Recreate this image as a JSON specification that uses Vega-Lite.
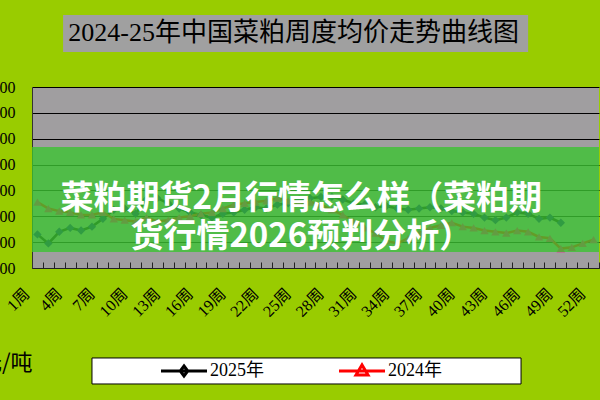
{
  "$schema": "https://vega.github.io/schema/vega-lite/v6.json",
  "autosize": "none",
  "width": 567,
  "height": 181,
  "padding": {"left": 32, "top": 87, "right": 1, "bottom": 132},
  "background": "#99CC00",
  "config": {"view": {"fill": "#A09EA0", "stroke": null}},
  "resolve": {"scale": {"shape": "independent"}},
  "data": {
    "values": [
      {"s": "2025年", "w": 1, "p": 2260}, {"s": "2025年", "w": 2, "p": 2190}, {"s": "2025年", "w": 3, "p": 2280}, {"s": "2025年", "w": 4, "p": 2310},
      {"s": "2025年", "w": 5, "p": 2290}, {"s": "2025年", "w": 6, "p": 2320}, {"s": "2025年", "w": 7, "p": 2380}, {"s": "2025年", "w": 8, "p": 2450},
      {"s": "2025年", "w": 9, "p": 2460}, {"s": "2025年", "w": 10, "p": 2420}, {"s": "2025年", "w": 11, "p": 2530}, {"s": "2025年", "w": 12, "p": 2540},
      {"s": "2025年", "w": 13, "p": 2500}, {"s": "2025年", "w": 14, "p": 2460}, {"s": "2025年", "w": 15, "p": 2430}, {"s": "2025年", "w": 16, "p": 2410},
      {"s": "2025年", "w": 17, "p": 2390}, {"s": "2025年", "w": 18, "p": 2420}, {"s": "2025年", "w": 19, "p": 2430}, {"s": "2025年", "w": 20, "p": 2450},
      {"s": "2025年", "w": 21, "p": 2470}, {"s": "2025年", "w": 22, "p": 2460}, {"s": "2025年", "w": 23, "p": 2490}, {"s": "2025年", "w": 24, "p": 2500},
      {"s": "2025年", "w": 25, "p": 2530}, {"s": "2025年", "w": 26, "p": 2540}, {"s": "2025年", "w": 27, "p": 2550}, {"s": "2025年", "w": 28, "p": 2550},
      {"s": "2025年", "w": 29, "p": 2530}, {"s": "2025年", "w": 30, "p": 2500}, {"s": "2025年", "w": 31, "p": 2490}, {"s": "2025年", "w": 32, "p": 2470},
      {"s": "2025年", "w": 33, "p": 2480}, {"s": "2025年", "w": 34, "p": 2460}, {"s": "2025年", "w": 35, "p": 2450}, {"s": "2025年", "w": 36, "p": 2460},
      {"s": "2025年", "w": 37, "p": 2470}, {"s": "2025年", "w": 38, "p": 2460}, {"s": "2025年", "w": 39, "p": 2440}, {"s": "2025年", "w": 40, "p": 2430},
      {"s": "2025年", "w": 41, "p": 2420}, {"s": "2025年", "w": 42, "p": 2390}, {"s": "2025年", "w": 43, "p": 2370}, {"s": "2025年", "w": 44, "p": 2390},
      {"s": "2025年", "w": 45, "p": 2430}, {"s": "2025年", "w": 46, "p": 2420}, {"s": "2025年", "w": 47, "p": 2380}, {"s": "2025年", "w": 48, "p": 2390},
      {"s": "2025年", "w": 49, "p": 2350},
      {"s": "2024年", "w": 1, "p": 2510}, {"s": "2024年", "w": 2, "p": 2460}, {"s": "2024年", "w": 3, "p": 2440}, {"s": "2024年", "w": 4, "p": 2430},
      {"s": "2024年", "w": 5, "p": 2410}, {"s": "2024年", "w": 6, "p": 2410}, {"s": "2024年", "w": 7, "p": 2430}, {"s": "2024年", "w": 8, "p": 2380},
      {"s": "2024年", "w": 9, "p": 2370}, {"s": "2024年", "w": 10, "p": 2360}, {"s": "2024年", "w": 11, "p": 2390}, {"s": "2024年", "w": 12, "p": 2360},
      {"s": "2024年", "w": 13, "p": 2370}, {"s": "2024年", "w": 14, "p": 2390}, {"s": "2024年", "w": 15, "p": 2400}, {"s": "2024年", "w": 16, "p": 2420},
      {"s": "2024年", "w": 17, "p": 2430}, {"s": "2024年", "w": 18, "p": 2460}, {"s": "2024年", "w": 19, "p": 2490}, {"s": "2024年", "w": 20, "p": 2500},
      {"s": "2024年", "w": 21, "p": 2510}, {"s": "2024年", "w": 22, "p": 2520}, {"s": "2024年", "w": 23, "p": 2540}, {"s": "2024年", "w": 24, "p": 2520},
      {"s": "2024年", "w": 25, "p": 2500}, {"s": "2024年", "w": 26, "p": 2510}, {"s": "2024年", "w": 27, "p": 2490}, {"s": "2024年", "w": 28, "p": 2450},
      {"s": "2024年", "w": 29, "p": 2410}, {"s": "2024年", "w": 30, "p": 2360}, {"s": "2024年", "w": 31, "p": 2310}, {"s": "2024年", "w": 32, "p": 2270},
      {"s": "2024年", "w": 33, "p": 2210}, {"s": "2024年", "w": 34, "p": 2190}, {"s": "2024年", "w": 35, "p": 2230}, {"s": "2024年", "w": 36, "p": 2270},
      {"s": "2024年", "w": 37, "p": 2310}, {"s": "2024年", "w": 38, "p": 2330}, {"s": "2024年", "w": 39, "p": 2350}, {"s": "2024年", "w": 40, "p": 2320},
      {"s": "2024年", "w": 41, "p": 2310}, {"s": "2024年", "w": 42, "p": 2290}, {"s": "2024年", "w": 43, "p": 2280}, {"s": "2024年", "w": 44, "p": 2270},
      {"s": "2024年", "w": 45, "p": 2290}, {"s": "2024年", "w": 46, "p": 2280}, {"s": "2024年", "w": 47, "p": 2240}, {"s": "2024年", "w": 48, "p": 2230},
      {"s": "2024年", "w": 49, "p": 2150}, {"s": "2024年", "w": 50, "p": 2160}, {"s": "2024年", "w": 51, "p": 2190}, {"s": "2024年", "w": 52, "p": 2220}
    ]
  },
  "layer": [
    {
      "mark": {"type": "line", "strokeWidth": 2.5},
      "encoding": {
        "x": {
          "field": "w", "type": "ordinal",
          "scale": {"type": "band", "paddingInner": 0, "paddingOuter": 0, "domain": [1,2,3,4,5,6,7,8,9,10,11,12,13,14,15,16,17,18,19,20,21,22,23,24,25,26,27,28,29,30,31,32,33,34,35,36,37,38,39,40,41,42,43,44,45,46,47,48,49,50,51,52]},
          "axis": {
            "title": null, "grid": false, "tickBand": "extent", "tickSize": -6, "tickColor": "#222222", "tickWidth": 1,
            "domainColor": "#222222", "domainWidth": 1,
            "labelAngle": -45, "labelAlign": "right", "labelBaseline": "middle", "labelPadding": 29, "labelOffset": -11,
            "labelExpr": "(datum.value - 1) % 3 == 0 ? datum.value + '周' : ''",
            "labelFont": "Liberation Serif, Noto Sans CJK SC", "labelFontSize": 16, "labelColor": "#000000", "labelOverlap": false
          }
        },
        "y": {
          "field": "p", "type": "quantitative",
          "scale": {"domain": [2000, 3400], "nice": false, "zero": false},
          "axis": {
            "values": [2000, 2200, 2400, 2600, 2800, 3000, 3200, 3400], "tickCount": 8, "format": "d", "labelOverlap": false,
            "grid": true, "gridColor": "#000000", "gridWidth": 1, "gridOpacity": 1,
            "ticks": false, "domainColor": "#333333", "domainWidth": 1,
            "labelPadding": 17, "labelFont": "Liberation Serif", "labelFontSize": 16, "labelColor": "#000000",
            "title": "元/吨", "titleAngle": 0, "titleAlign": "right", "titleBaseline": "middle", "titleX": 0, "titleY": 275,
            "titleFont": "Noto Sans CJK SC", "titleFontSize": 22, "titleFontWeight": "normal", "titleColor": "#000000"
          }
        },
        "color": {
          "field": "s", "type": "nominal",
          "scale": {"domain": ["2025年", "2024年"], "range": ["#000000", "#FF0000"]},
          "legend": null
        }
      }
    },
    {
      "mark": {"type": "point", "filled": true, "size": 70, "opacity": 1},
      "encoding": {
        "x": {"field": "w", "type": "ordinal", "scale": {"type": "band", "paddingInner": 0, "paddingOuter": 0, "domain": [1,2,3,4,5,6,7,8,9,10,11,12,13,14,15,16,17,18,19,20,21,22,23,24,25,26,27,28,29,30,31,32,33,34,35,36,37,38,39,40,41,42,43,44,45,46,47,48,49,50,51,52]}},
        "y": {"field": "p", "type": "quantitative", "scale": {"domain": [2000, 3400], "nice": false, "zero": false}},
        "shape": {"field": "s", "type": "nominal", "scale": {"domain": ["2025年", "2024年"], "range": ["diamond", "triangle-up"]}, "legend": null},
        "fill": {"field": "s", "type": "nominal", "scale": {"domain": ["2025年", "2024年"], "range": ["#000080", "#FF0080"]}, "legend": null}
      }
    },
    {
      "transform": [{"filter": "datum.s === '2025年'"}],
      "mark": {"type": "point", "filled": false, "stroke": "#000000", "strokeWidth": 3, "opacity": 0},
      "encoding": {
        "x": {"field": "w", "type": "ordinal", "scale": {"type": "band", "paddingInner": 0, "paddingOuter": 0, "domain": [1,2,3,4,5,6,7,8,9,10,11,12,13,14,15,16,17,18,19,20,21,22,23,24,25,26,27,28,29,30,31,32,33,34,35,36,37,38,39,40,41,42,43,44,45,46,47,48,49,50,51,52]}},
        "y": {"field": "p", "type": "quantitative", "scale": {"domain": [2000, 3400], "nice": false, "zero": false}},
        "shape": {
          "field": "s", "type": "nominal",
          "scale": {"domain": ["2025年"], "range": ["M-4.6,0H4.6M0,-1L0.75,0L0,1L-0.75,0Z"]},
          "legend": {
            "orient": "none", "legendX": 143, "legendY": 275, "title": null,
            "symbolSize": 100, "symbolStrokeWidth": 3, "symbolOpacity": 1, "symbolFillColor": "#000080", "symbolStrokeColor": "#000000",
            "labelOffset": 17, "padding": 0,
            "labelFont": "Liberation Serif, Noto Sans CJK SC", "labelFontSize": 18, "labelColor": "#000000"
          }
        }
      }
    },
    {
      "transform": [{"filter": "datum.s === '2024年'"}],
      "mark": {"type": "point", "filled": false, "stroke": "#FF0000", "strokeWidth": 3, "opacity": 0},
      "encoding": {
        "x": {"field": "w", "type": "ordinal", "scale": {"type": "band", "paddingInner": 0, "paddingOuter": 0, "domain": [1,2,3,4,5,6,7,8,9,10,11,12,13,14,15,16,17,18,19,20,21,22,23,24,25,26,27,28,29,30,31,32,33,34,35,36,37,38,39,40,41,42,43,44,45,46,47,48,49,50,51,52]}},
        "y": {"field": "p", "type": "quantitative", "scale": {"domain": [2000, 3400], "nice": false, "zero": false}},
        "shape": {
          "field": "s", "type": "nominal",
          "scale": {"domain": ["2024年"], "range": ["M-4.6,0H4.6M-1.2,0.8L0,-1.2L1.2,0.8Z"]},
          "legend": {
            "orient": "none", "legendX": 321, "legendY": 275, "title": null,
            "symbolSize": 100, "symbolStrokeWidth": 3, "symbolOpacity": 1, "symbolFillColor": "#FF0080", "symbolStrokeColor": "#FF0000",
            "labelOffset": 17, "padding": 0,
            "labelFont": "Liberation Serif, Noto Sans CJK SC", "labelFontSize": 18, "labelColor": "#000000"
          }
        }
      }
    },
    {
      "data": {"values": [{}]},
      "mark": {"type": "rect", "fill": "#A0A0A0"},
      "encoding": {
        "x": {"datum": 3, "type": "ordinal", "bandPosition": 0.85, "scale": {"type": "band", "paddingInner": 0, "paddingOuter": 0, "domain": [1,2,3,4,5,6,7,8,9,10,11,12,13,14,15,16,17,18,19,20,21,22,23,24,25,26,27,28,29,30,31,32,33,34,35,36,37,38,39,40,41,42,43,44,45,46,47,48,49,50,51,52]}},
        "x2": {"datum": 46},
        "y": {"datum": 3957, "type": "quantitative", "scale": {"domain": [2000, 3400], "nice": false, "zero": false}},
        "y2": {"datum": 3671}
      }
    },
    {
      "data": {"values": [{}]},
      "mark": {
        "type": "text",
        "text": "2024-25年中国菜粕周度均价走势曲线图",
        "font": "Liberation Serif, Noto Sans CJK SC", "fontSize": 26, "fontWeight": "normal", "color": "#000000",
        "align": "center", "baseline": "middle"
      },
      "encoding": {
        "x": {"datum": 25, "type": "ordinal", "bandPosition": 0, "scale": {"type": "band", "paddingInner": 0, "paddingOuter": 0, "domain": [1,2,3,4,5,6,7,8,9,10,11,12,13,14,15,16,17,18,19,20,21,22,23,24,25,26,27,28,29,30,31,32,33,34,35,36,37,38,39,40,41,42,43,44,45,46,47,48,49,50,51,52]}},
        "y": {"datum": 3818, "type": "quantitative", "scale": {"domain": [2000, 3400], "nice": false, "zero": false}}
      }
    },
    {
      "data": {"values": [{}]},
      "mark": {"type": "rect", "fill": "#FFFFFF", "stroke": "#000000", "strokeWidth": 1},
      "encoding": {
        "x": {"datum": 6, "type": "ordinal", "scale": {"type": "band", "paddingInner": 0, "paddingOuter": 0, "domain": [1,2,3,4,5,6,7,8,9,10,11,12,13,14,15,16,17,18,19,20,21,22,23,24,25,26,27,28,29,30,31,32,33,34,35,36,37,38,39,40,41,42,43,44,45,46,47,48,49,50,51,52]}},
        "x2": {"datum": 45, "bandPosition": 0.85},
        "y": {"datum": 1304, "type": "quantitative", "scale": {"domain": [2000, 3400], "nice": false, "zero": false}},
        "y2": {"datum": 1103}
      }
    },
    {
      "data": {"values": [{}]},
      "mark": {"type": "rect", "fill": "#3CC332", "opacity": 0.8},
      "encoding": {
        "y": {"datum": 2936, "type": "quantitative", "scale": {"domain": [2000, 3400], "nice": false, "zero": false}},
        "y2": {"datum": 2124}
      }
    },
    {
      "data": {"values": [{}]},
      "mark": {
        "type": "text",
        "text": ["菜粕期货2月行情怎么样（菜粕期", "货行情2026预判分析）"],
        "font": "Noto Sans CJK SC", "fontSize": 33, "fontWeight": "bold", "color": "#FFFFFF",
        "align": "center", "baseline": "middle", "lineHeight": 38
      },
      "encoding": {
        "x": {"datum": 25, "type": "ordinal", "bandPosition": 0.7, "scale": {"type": "band", "paddingInner": 0, "paddingOuter": 0, "domain": [1,2,3,4,5,6,7,8,9,10,11,12,13,14,15,16,17,18,19,20,21,22,23,24,25,26,27,28,29,30,31,32,33,34,35,36,37,38,39,40,41,42,43,44,45,46,47,48,49,50,51,52]}},
        "y": {"datum": 2534, "type": "quantitative", "scale": {"domain": [2000, 3400], "nice": false, "zero": false}}
      }
    }
  ]
}
